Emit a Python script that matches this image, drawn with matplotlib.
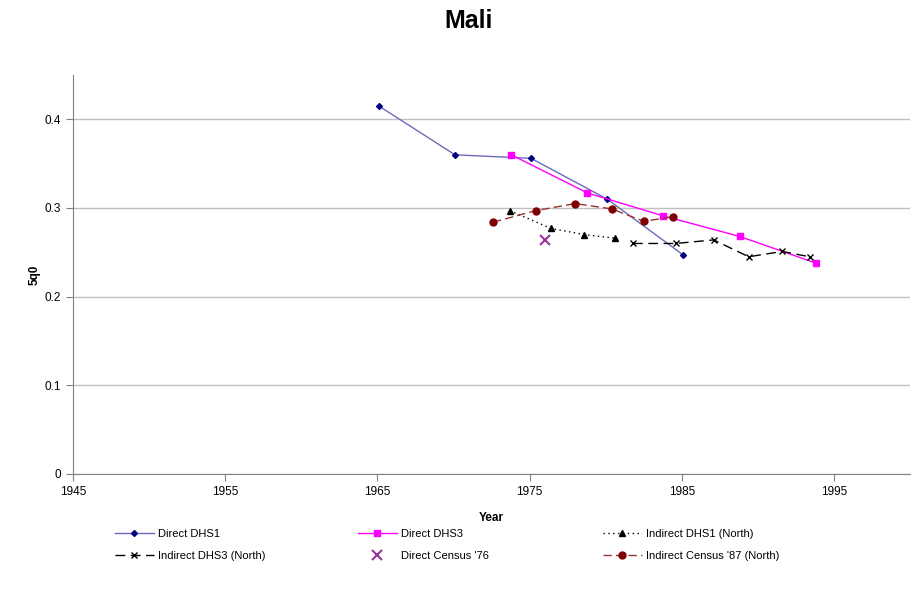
import matplotlib.pyplot as plt
import numpy as np

plt.rcParams['font.family'] = ['Liberation Sans', 'DejaVu Sans']

# estimates of 5q0 for Mali by source
dhs1_year = [1965.1, 1970.1, 1975.1, 1980.1, 1985.1]
dhs1_q = [0.415, 0.360, 0.356, 0.310, 0.247]

dhs3_year = [1973.8, 1978.8, 1983.8, 1988.8, 1993.8]
dhs3_q = [0.360, 0.317, 0.291, 0.268, 0.238]

ind_dhs1_year = [1973.7, 1976.4, 1978.6, 1980.6]
ind_dhs1_q = [0.297, 0.277, 0.270, 0.266]

ind_dhs3_year = [1981.8, 1984.6, 1987.1, 1989.4, 1991.6, 1993.4]
ind_dhs3_q = [0.260, 0.260, 0.264, 0.245, 0.251, 0.245]

census76_year = [1976.0]
census76_q = [0.264]

census87_year = [1972.6, 1975.4, 1978.0, 1980.4, 1982.5, 1984.4]
census87_q = [0.284, 0.297, 0.305, 0.299, 0.285, 0.290]

fig = plt.figure(figsize=(9.21, 5.89), dpi=100)
ax = fig.add_axes([73 / 921, 1 - 474 / 589, (910 - 73) / 921, (474 - 75) / 589])

h1, = ax.plot(dhs1_year, dhs1_q, color='#6a6ab8', lw=1, marker='D', ms=3,
              mfc='#000080', mec='#000080', label='Direct DHS1')
h2, = ax.plot(dhs3_year, dhs3_q, color='#ff00ff', lw=1, marker='s', ms=4.5,
              mfc='#ff00ff', mec='#ff00ff', label='Direct DHS3')
h3, = ax.plot(ind_dhs1_year, ind_dhs1_q, color='black', lw=1, ls=(0, (1, 2.5)),
              marker='^', ms=5, mfc='black', mec='black', label='Indirect DHS1 (North)')
h4, = ax.plot(ind_dhs3_year, ind_dhs3_q, color='black', lw=1, ls=(0, (7, 4)),
              marker='x', ms=4, mew=1, label='Indirect DHS3 (North)')
h5, = ax.plot(census76_year, census76_q, ls='none', marker='x', ms=6.5, mew=1.5,
              color='#993399', label="Direct Census '76")
h6, = ax.plot(census87_year, census87_q, color='#993333', lw=1, ls=(0, (6, 3)),
              marker='o', ms=5, mfc='#800000', mec='#800000',
              label="Indirect Census '87 (North)")

ax.set_xlim(1945, 2000)
ax.set_ylim(0, 0.45)
ax.set_xticks(np.arange(1945, 2000, 10))
ax.set_yticks([0, 0.1, 0.2, 0.3, 0.4])
ax.set_yticklabels(['0', '0.1', '0.2', '0.3', '0.4'])
ax.yaxis.grid(True, color='#c0c0c0', lw=1)
ax.set_axisbelow(True)
for s in ['top', 'right']:
    ax.spines[s].set_visible(False)
for s in ['left', 'bottom']:
    ax.spines[s].set_color('#808080')
ax.tick_params(axis='both', colors='#808080', labelcolor='black', labelsize=8.5,
               length=5, direction='out')

ax.set_xlabel('Year', fontsize=8.5, fontweight='bold', labelpad=10)
ax.set_ylabel('5q0', fontsize=8.5, fontweight='bold', labelpad=3)
fig.text(469 / 921, 1 - 21 / 589, 'Mali', fontsize=18, fontweight='bold',
         ha='center', va='center')

# legend laid out as three evenly spaced columns under the axes
columns = [(h1, h4), (h2, h5), (h3, h6)]
col_x = [115, 358, 603]
for (ha, hb), x in zip(columns, col_x):
    leg = fig.legend(handles=[ha, hb], labels=[ha.get_label(), hb.get_label()],
                     loc='upper left', bbox_to_anchor=(x / 921, 1 - 529 / 589),
                     frameon=False, fontsize=8, handlelength=3.5,
                     handletextpad=0.35, labelspacing=1.05,
                     borderpad=0, borderaxespad=0)

fig.savefig('out.png', dpi=100)
